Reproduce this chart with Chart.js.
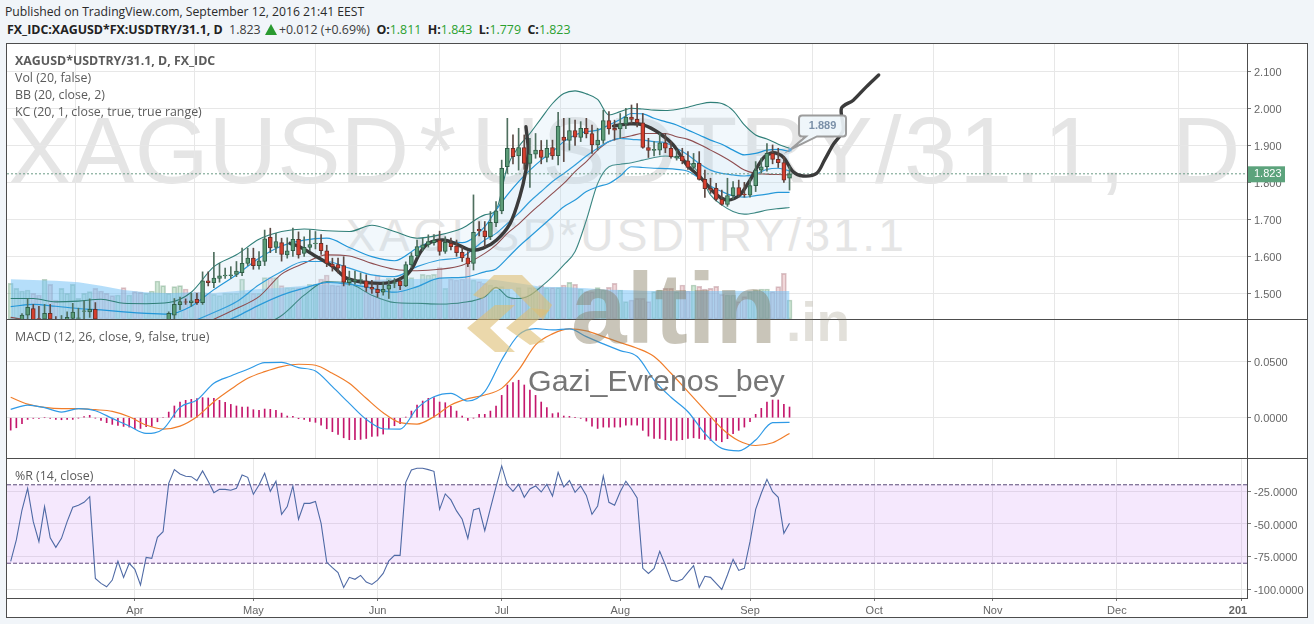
<!DOCTYPE html>
<html>
<head>
<meta charset="utf-8">
<title>XAGUSD*USDTRY/31.1</title>
<script src="https://cdn.jsdelivr.net/npm/chart.js@4/dist/chart.umd.min.js"></script>
<style>
html, body { margin: 0; padding: 0; width: 1314px; height: 624px; overflow: hidden; background: #f1f5f9; }
body { position: relative; font-family: "Open Sans", sans-serif; }
div, canvas, svg { position: absolute; }
#frame { left: 7px; top: 44px; width: 1300px; height: 573px; background: #fff; }
.rule { background: #4d4d4d; }
.wm { font-family: "Liberation Sans", Arial, sans-serif; color: #e5e5e5; white-space: nowrap; line-height: 1; }
.leg { left: 15px; font-size: 12.4px; color: #5b5b5b; white-space: nowrap; line-height: 17px; }
#published { left: 5px; top: 3px; font-size: 12.2px; color: #2a2a2a; white-space: nowrap; line-height: 17px; }
#status { left: 7px; top: 21px; font-size: 12.4px; color: #3c3c3c; white-space: nowrap; line-height: 17px; }
#status b { color: #222; font-weight: 700; }
#status i { font-style: normal; color: #2aa02f; }
#tri { display: inline-block; width: 0; height: 0; border-left: 6px solid transparent; border-right: 6px solid transparent; border-bottom: 11px solid #2a9a30; vertical-align: -1px; margin: 0 2px 0 1px; }
#logo, #logo2, #nick { font-family: "Liberation Sans", Arial, sans-serif; white-space: nowrap; line-height: 1; }
#logo { left: 571px; top: 258px; font-size: 100px; font-weight: 700; color: rgba(135,126,99,.45); }
#logo2 { left: 786px; top: 295px; font-size: 55px; font-weight: 700; color: rgba(135,126,99,.24); }
#nick { left: 528px; top: 365px; font-size: 30.4px; color: #767676; }
</style>
</head>
<body>
<div id="frame"></div>
<div class="wm" style="left:8px;top:103px;font-size:95px">XAGUSD<span style="margin-left:10px;letter-spacing:15px">*</span><span style="letter-spacing:2.5px">USDTRY/31.1</span><span style="letter-spacing:10px">, D</span></div>
<div class="wm" style="left:345px;top:212px;font-size:46px;letter-spacing:3.3px">XAGUSD*USDTRY/31.1</div>

<canvas id="mainChart" width="1300" height="275" style="left:7px;top:44px;width:1300px;height:275px"></canvas>
<canvas id="macdChart" width="1300" height="138" style="left:7px;top:320px;width:1300px;height:138px"></canvas>
<canvas id="wprChart" width="1300" height="158" style="left:7px;top:459px;width:1300px;height:158px"></canvas>

<!-- frame and pane rules -->
<div class="rule" style="left:6px;top:43px;width:1302px;height:1px"></div>
<div class="rule" style="left:6px;top:617px;width:1302px;height:1px"></div>
<div class="rule" style="left:6px;top:43px;width:1px;height:575px"></div>
<div class="rule" style="left:1307px;top:43px;width:1px;height:575px"></div>
<div class="rule" style="left:6px;top:319px;width:1302px;height:1px"></div>
<div class="rule" style="left:6px;top:458px;width:1302px;height:1px"></div>
<div class="rule" style="left:6px;top:598px;width:1242px;height:1px"></div>
<div class="rule" style="left:1247px;top:43px;width:1px;height:556px"></div>

<div id="published">Published on TradingView.com, September 12, 2016 21:41 EEST</div>
<div id="status"><b>FX_IDC:XAGUSD*FX:USDTRY/31.1, D</b>&nbsp; 1.823 <span id="tri"></span>+0.012 (+0.69%) &nbsp;<b>O:</b><i>1.811</i> &nbsp;<b>H:</b><i>1.843</i> &nbsp;<b>L:</b><i>1.779</i> &nbsp;<b>C:</b><i>1.823</i></div>

<div class="leg" style="top:52px;font-weight:700">XAGUSD*USDTRY/31.1, D, FX_IDC</div>
<div class="leg" style="top:69px">Vol (20, false)</div>
<div class="leg" style="top:86px">BB (20, close, 2)</div>
<div class="leg" style="top:103px">KC (20, 1, close, true, true range)</div>
<div class="leg" style="top:328px">MACD (12, 26, close, 9, false, true)</div>
<div class="leg" style="top:467px">%R (14, close)</div>

<!-- site logo over the chart -->
<svg width="1314" height="624" style="left:0;top:0">
  <g fill="rgba(222,190,115,.6)">
    <polygon points="467,328 495,305 515,305 490,328 515,352 495,352"></polygon>
    <polygon points="506,328 530,308 550,310 528,328 545,342 530,345"></polygon>
    <polygon points="473,295 494,275 522,275 552,305 543,320 512,289 494,289 482,299"></polygon>
  </g>
</svg>
<div id="logo">altin</div>
<div id="logo2">.in</div>
<div id="nick">Gazi_Evrenos_bey</div>

<script>
// daily bars, index 0 is the first bar on the left of the chart
const open = [1.420,1.425,1.429,1.441,1.459,1.432,1.430,1.446,1.430,1.428,
  1.429,1.432,1.432,1.451,1.450,1.457,1.428,1.415,1.410,1.405,
  1.415,1.408,1.415,1.410,1.400,1.415,1.415,1.420,1.429,1.441,
  1.469,1.477,1.475,1.484,1.475,1.534,1.529,1.540,1.547,1.548,
  1.551,1.556,1.581,1.595,1.575,1.586,1.651,1.624,1.637,1.604,
  1.615,1.646,1.608,1.624,1.634,1.635,1.615,1.579,1.578,1.575,
  1.529,1.532,1.536,1.534,1.516,1.511,1.503,1.511,1.527,1.534,
  1.520,1.577,1.601,1.622,1.631,1.637,1.644,1.613,1.635,1.628,
  1.611,1.596,1.581,1.673,1.669,1.653,1.691,1.723,1.842,1.892,
  1.871,1.894,1.851,1.876,1.887,1.867,1.894,1.872,1.922,1.913,
  1.940,1.921,1.946,1.932,1.901,1.913,1.967,1.946,1.944,1.958,
  1.976,1.970,1.961,1.894,1.886,1.887,1.907,1.892,1.865,1.871,
  1.858,1.840,1.851,1.808,1.783,1.784,1.754,1.740,1.764,1.786,
  1.768,1.765,1.791,1.833,1.842,1.878,1.862,1.853,1.811];
const high = [1.430,1.432,1.445,1.486,1.470,1.465,1.470,1.470,1.437,1.440,
  1.450,1.473,1.460,1.480,1.485,1.475,1.429,1.425,1.420,1.420,
  1.425,1.420,1.425,1.415,1.420,1.425,1.428,1.429,1.450,1.486,
  1.490,1.485,1.500,1.500,1.558,1.558,1.611,1.581,1.568,1.572,
  1.586,1.622,1.622,1.622,1.613,1.671,1.676,1.662,1.649,1.650,
  1.676,1.666,1.653,1.671,1.667,1.659,1.630,1.595,1.595,1.599,
  1.560,1.560,1.555,1.550,1.535,1.525,1.530,1.535,1.540,1.540,
  1.585,1.610,1.644,1.649,1.658,1.659,1.668,1.653,1.649,1.644,
  1.626,1.613,1.766,1.694,1.694,1.721,1.748,1.860,1.973,1.928,
  1.946,1.928,1.919,1.932,1.913,1.914,1.914,1.989,1.973,1.973,
  1.968,1.964,1.973,1.955,1.946,1.995,1.991,1.968,1.986,2.000,
  2.009,2.013,1.986,1.919,1.910,1.932,1.932,1.910,1.887,1.892,
  1.883,1.878,1.883,1.833,1.811,1.797,1.779,1.811,1.802,1.806,
  1.800,1.810,1.856,1.865,1.905,1.901,1.892,1.869,1.843];
const low = [1.410,1.415,1.420,1.425,1.420,1.420,1.420,1.420,1.420,1.420,
  1.420,1.425,1.420,1.430,1.435,1.420,1.410,1.405,1.400,1.400,
  1.405,1.400,1.405,1.395,1.395,1.405,1.410,1.410,1.420,1.430,
  1.455,1.470,1.465,1.470,1.470,1.520,1.515,1.530,1.540,1.540,
  1.545,1.548,1.575,1.565,1.565,1.575,1.610,1.610,1.587,1.595,
  1.600,1.595,1.600,1.615,1.620,1.605,1.572,1.560,1.555,1.520,
  1.522,1.525,1.525,1.505,1.500,1.490,1.495,1.486,1.515,1.510,
  1.518,1.570,1.598,1.615,1.625,1.630,1.603,1.608,1.617,1.600,
  1.586,1.572,1.563,1.655,1.626,1.645,1.680,1.715,1.824,1.850,
  1.833,1.835,1.786,1.865,1.850,1.855,1.862,1.847,1.856,1.887,
  1.900,1.910,1.920,1.878,1.887,1.905,1.930,1.914,1.919,1.945,
  1.960,1.950,1.892,1.867,1.871,1.874,1.880,1.865,1.860,1.850,
  1.835,1.835,1.806,1.759,1.770,1.750,1.738,1.735,1.755,1.760,
  1.760,1.760,1.775,1.825,1.830,1.850,1.840,1.800,1.779];
const close = [1.425,1.430,1.441,1.462,1.429,1.430,1.446,1.430,1.428,1.430,
  1.435,1.449,1.434,1.453,1.457,1.430,1.415,1.410,1.405,1.415,
  1.408,1.415,1.410,1.400,1.415,1.415,1.420,1.425,1.446,1.470,
  1.478,1.476,1.480,1.475,1.534,1.529,1.541,1.547,1.549,1.550,
  1.560,1.581,1.595,1.575,1.588,1.647,1.623,1.640,1.605,1.615,
  1.646,1.604,1.624,1.632,1.636,1.615,1.581,1.572,1.568,1.530,
  1.538,1.536,1.537,1.516,1.511,1.502,1.511,1.522,1.529,1.521,
  1.578,1.601,1.626,1.631,1.640,1.644,1.613,1.638,1.626,1.610,
  1.596,1.579,1.665,1.669,1.653,1.692,1.723,1.838,1.892,1.869,
  1.894,1.851,1.876,1.887,1.867,1.892,1.871,1.952,1.913,1.940,
  1.922,1.946,1.931,1.901,1.914,1.967,1.944,1.941,1.958,1.976,
  1.970,1.961,1.894,1.886,1.889,1.907,1.892,1.869,1.871,1.858,
  1.840,1.851,1.808,1.783,1.779,1.754,1.740,1.764,1.786,1.765,
  1.766,1.791,1.833,1.842,1.878,1.862,1.853,1.806,1.823];
// volume has no axis in the picture, so this is only relative
const volume = [1070,920,840,870,770,720,1190,1040,570,920,
  770,1040,620,770,820,920,840,770,700,720,
  940,720,820,800,770,840,1140,1000,770,970,
  1000,900,770,800,800,770,740,700,770,770,
  770,1200,770,770,770,1240,1240,1240,1000,940,
  940,940,940,1040,1040,1200,1320,1020,1000,1120,
  1170,1000,1000,1000,1120,1320,1070,1220,1040,1170,
  1170,1240,970,1340,1320,1340,1540,920,1200,1170,
  1200,1620,1170,1120,1070,1020,870,970,900,620,
  940,670,940,940,1000,940,940,940,1020,1100,
  1040,900,820,820,940,870,950,1070,870,520,
  570,620,620,520,820,870,920,920,820,1020,
  840,1020,980,900,920,980,740,720,720,520,
  670,820,870,900,900,820,970,1370,570];

// indicators in the main pane are read at these bars
const bandIdx = [0,4,8,12,16,20,24,28,32,36,40,44,48,52,56,60,64,68,72,76,80,84,
  86,88,90,92,94,96,98,100,102,104,106,108,110,112,114,116,118,120,122,124,126,128,130,132,134,136,138];
const volMa = [1190,1170,1150,1100,1000,870,800,770,800,780,840,900,940,1000,1040,1100,1170,1200,1200,1220,1220,1200,
  1170,1120,1070,1020,970,960,960,940,920,900,880,870,860,850,840,840,840,840,840,840,840,850,840,840,840,840,840];
const bbUpper = [1.486,1.486,1.477,1.479,1.484,1.473,1.472,1.475,1.503,1.572,1.604,1.646,1.667,1.674,1.669,1.667,1.684,1.667,1.649,1.658,1.676,1.712,
  1.725,1.842,1.896,1.932,1.973,2.013,2.040,2.047,2.039,2.024,1.982,1.991,2.000,1.998,1.995,1.994,1.997,2.003,2.011,2.016,2.013,1.994,1.955,1.928,1.917,1.903,1.892];
const bbBasis = [1.435,1.425,1.410,1.405,1.400,1.400,1.400,1.400,1.405,1.430,1.459,1.491,1.552,1.581,1.604,1.601,1.581,1.565,1.561,1.565,1.576,1.608,
  1.631,1.662,1.687,1.716,1.743,1.770,1.797,1.829,1.856,1.887,1.910,1.919,1.926,1.932,1.932,1.932,1.923,1.916,1.903,1.887,1.871,1.853,1.833,1.824,1.822,1.821,1.820];
const bbLower = [1.360,1.370,1.370,1.370,1.360,1.350,1.340,1.330,1.340,1.370,1.390,1.410,1.440,1.495,1.532,1.527,1.495,1.475,1.473,1.471,1.475,1.491,
  1.516,1.491,1.486,1.495,1.518,1.545,1.577,1.613,1.698,1.797,1.842,1.849,1.853,1.860,1.867,1.871,1.867,1.856,1.824,1.766,1.739,1.721,1.714,1.718,1.725,1.729,1.732];
const kcUpper = [1.464,1.470,1.465,1.459,1.455,1.450,1.446,1.444,1.465,1.510,1.550,1.595,1.628,1.644,1.649,1.624,1.599,1.588,1.622,1.646,1.637,1.680,
  1.725,1.766,1.802,1.833,1.860,1.883,1.910,1.928,1.937,1.941,1.955,1.970,1.986,1.985,1.973,1.964,1.955,1.941,1.928,1.914,1.903,1.887,1.874,1.878,1.887,1.889,1.883];
const kcMid = [1.420,1.415,1.410,1.405,1.400,1.400,1.400,1.405,1.423,1.448,1.477,1.523,1.559,1.586,1.586,1.568,1.550,1.545,1.572,1.590,1.599,1.644,
  1.662,1.689,1.716,1.748,1.775,1.802,1.824,1.847,1.871,1.892,1.910,1.919,1.916,1.914,1.910,1.907,1.892,1.874,1.851,1.833,1.824,1.820,1.817,1.822,1.835,1.838,1.831];
const kcLower = [1.370,1.360,1.360,1.350,1.350,1.350,1.350,1.360,1.380,1.410,1.437,1.468,1.495,1.514,1.529,1.525,1.514,1.503,1.518,1.541,1.543,1.558,
  1.566,1.595,1.626,1.653,1.680,1.707,1.734,1.752,1.775,1.788,1.797,1.817,1.842,1.840,1.838,1.837,1.835,1.830,1.811,1.790,1.775,1.763,1.760,1.764,1.768,1.773,1.773];

// the hand drawn forecast brush line, null splits its two strokes
const brushIdx = [49.5,51.2,54.2,57.1,59.5,63.1,67.2,70.1,71.3,72.5,74.0,76.6,79.0,81.4,83.7,86.1,88.5,90.2,91.3,91.7,91.3,
  100,
  106.8,109.7,112.1,115.0,117.4,119.8,122.1,125.1,127.1,129.2,131.0,133.3,135.1,136.9,138.6,140.4,142.8,144.2,145.7,147.5,147.2,149.3,151.6,153.8];
const brushVal = [1.635,1.626,1.599,1.572,1.541,1.529,1.529,1.549,1.572,1.609,1.635,1.644,1.633,1.617,1.622,1.644,1.689,1.761,1.833,1.887,1.950,
  null,
  1.952,1.958,1.955,1.932,1.901,1.847,1.815,1.766,1.752,1.766,1.806,1.865,1.880,1.868,1.829,1.817,1.824,1.860,1.901,1.941,2.000,2.022,2.058,2.090];

// MACD lines are read every third bar
const macdIdx = [0,3,6,9,12,15,18,21,24,27,30,33,36,39,42,45,48,51,54,57,60,63,66,69,72,75,78,81,84,87,90,93,96,99,102,105,108,111,114,117,120,123,126,129,132,135,138];
const macdLine = [0.0074,0.0112,0.0089,0.0050,0.0080,0.0062,-0.0006,-0.0074,-0.0139,-0.0101,0.0092,0.0157,0.0305,0.0370,0.0429,0.0488,0.0491,0.0444,0.0414,0.0275,0.0127,-0.0015,-0.0098,-0.0101,0.0083,0.0186,0.0216,0.0148,0.0231,0.0512,0.0734,0.0790,0.0778,0.0787,0.0719,0.0654,0.0595,0.0542,0.0334,0.0181,0.0053,-0.0139,-0.0272,-0.0293,-0.0198,-0.0044,-0.0041];
const macdSignal = [0.0181,0.0121,0.0092,0.0080,0.0080,0.0071,0.0056,0.0009,-0.0065,-0.0101,-0.0074,0.0009,0.0142,0.0252,0.0349,0.0408,0.0453,0.0474,0.0465,0.0394,0.0305,0.0172,0.0044,-0.0044,-0.0056,0.0009,0.0112,0.0169,0.0201,0.0260,0.0423,0.0645,0.0743,0.0787,0.0770,0.0719,0.0666,0.0616,0.0542,0.0394,0.0231,0.0068,-0.0095,-0.0204,-0.0246,-0.0222,-0.0139];
const macdHist = [-0.0110,-0.0089,-0.0053,-0.0015,-0.0006,-0.0006,0,-0.0006,-0.0015,-0.0018,
  -0.0015,-0.0015,-0.0003,0.0009,0.0021,-0.0003,-0.0024,-0.0044,-0.0059,-0.0068,
  -0.0077,-0.0083,-0.0098,-0.0095,-0.0080,-0.0077,-0.0036,0,0.0050,0.0104,
  0.0139,0.0154,0.0163,0.0169,0.0178,0.0175,0.0172,0.0154,0.0136,0.0118,
  0.0104,0.0095,0.0095,0.0071,0.0065,0.0077,0.0074,0.0065,0.0041,0.0015,
  0.0012,-0.0009,-0.0015,-0.0033,-0.0041,-0.0065,-0.0098,-0.0124,-0.0148,-0.0178,
  -0.0195,-0.0195,-0.0192,-0.0184,-0.0166,-0.0163,-0.0145,-0.0098,-0.0071,-0.0053,
  0.0006,0.0059,0.0112,0.0148,0.0172,0.0178,0.0139,0.0133,0.0101,0.0059,
  0.0015,-0.0024,-0.0003,0.0030,0.0030,0.0059,0.0104,0.0198,0.0290,0.0311,
  0.0332,0.0290,0.0246,0.0198,0.0139,0.0089,0.0036,0.0044,0.0015,0.0012,
  0.0003,-0.0006,-0.0030,-0.0074,-0.0095,-0.0083,-0.0083,-0.0083,-0.0083,-0.0065,
  -0.0065,-0.0065,-0.0112,-0.0163,-0.0184,-0.0184,-0.0195,-0.0201,-0.0201,-0.0195,
  -0.0184,-0.0178,-0.0184,-0.0192,-0.0201,-0.0201,-0.0213,-0.0186,-0.0142,-0.0112,
  -0.0083,-0.0036,0.0030,0.0083,0.0139,0.0157,0.0157,0.0118,0.0095];

const williamsR = [-78.6,-62.2,-39.3,-22.7,-48.2,-63.5,-36.7,-60.5,-67.9,-61.0,
  -48.2,-37.2,-35.7,-33.4,-29.1,-91.6,-95.4,-98.0,-92.9,-78.6,
  -90.8,-80.1,-84.7,-96.7,-75.5,-76.3,-60.2,-55.9,-18.9,-8.4,
  -11.7,-13.5,-13.8,-16.8,-9.4,-17.3,-26.0,-23.5,-23.5,-24.2,
  -22.7,-12.5,-14.3,-27.3,-20.2,-11.2,-25.0,-17.3,-42.6,-36.7,
  -20.9,-46.4,-34.2,-34.2,-32.7,-49.5,-79.3,-83.4,-87.2,-98.5,
  -90.8,-92.3,-89.3,-94.4,-96.2,-92.9,-87.8,-78.1,-74.0,-74.0,
  -18.1,-8.7,-7.4,-7.4,-8.4,-9.7,-38.8,-27.0,-31.6,-40.0,
  -46.4,-61.0,-39.3,-38.0,-55.1,-38.0,-21.4,-5.6,-20.2,-25.0,
  -19.6,-29.6,-23.2,-20.9,-25.5,-19.6,-28.6,-10.5,-21.7,-16.8,
  -25.8,-20.9,-28.1,-42.6,-36.2,-13.3,-33.4,-35.7,-25.3,-17.3,
  -23.2,-30.1,-83.9,-87.8,-83.9,-70.9,-81.4,-92.9,-93.9,-92.3,
  -87.0,-81.9,-98.5,-90.0,-90.8,-95.4,-100.0,-89.0,-77.0,-85.5,
  -83.9,-63.5,-38.8,-26.5,-15.8,-25.3,-29.6,-57.1,-49.5];

// time axis and price axes
const monthIdx = [22,43,65,87,108,131,153,174,196,218];
const monthLabels = ["Apr","May","Jun","Jul","Aug","Sep","Oct","Nov","Dec","2017"];
const priceTicks = [1.5,1.6,1.7,1.8,1.9,2.0,2.1];
const macdTicks = [0,0.05];
const wprTicks = [-25,-50,-75,-100];
const wprLevels = [-20,-80];
const lastClose = 1.823;
const calloutValue = 1.889;

const xMin = -0.655, xMax = 219.06;
const gridColor = "#e7e7e7";
const axisFont = {family: '"Liberation Sans", Arial, sans-serif', size: 11};

const pts = (idx, vals) => idx.map((x, i) => ({x: x, y: vals[i]}));

function lineSet(idx, vals, color, width, extra) {
  return Object.assign({
    type: "line", data: pts(idx, vals), borderColor: color, borderWidth: width,
    pointRadius: 0, tension: 0, yAxisID: "y"
  }, extra || {});
}

// tick labels must not push the plot area in from the pane edges
function noLabelPadding(s) {
  s.paddingTop = 0;
  s.paddingBottom = 0;
  s.paddingLeft = 0;
  s.paddingRight = 0;
}

function xAxis(height, showLabels) {
  return {
    type: "linear", min: xMin, max: xMax, offset: false,
    afterBuildTicks: s => { s.ticks = monthIdx.map(v => ({value: v})); },
    afterFit: s => { s.height = height; noLabelPadding(s); },
    border: {display: false},
    grid: {color: gridColor, drawTicks: showLabels, tickLength: 3, tickColor: "#777"},
    ticks: {
      display: showLabels, autoSkip: false, maxRotation: 0, color: "#666", padding: 3,
      font: c => Object.assign({}, axisFont, {weight: monthLabels[c.index] === "2017" ? "bold" : "normal"}),
      callback: (v, i) => monthLabels[i]
    }
  };
}

function yAxis(min, max, tickList, decimals) {
  return {
    position: "right", min: min, max: max,
    afterBuildTicks: s => { s.ticks = tickList.map(v => ({value: v})); },
    afterFit: s => { s.width = 60; noLabelPadding(s); },
    border: {display: false},
    grid: {color: gridColor, tickLength: 4, tickColor: "#777"},
    ticks: {color: "#666", padding: 3, labelOffset: 1.5, font: axisFont, autoSkip: false, callback: v => v.toFixed(decimals)}
  };
}

const baseOptions = {
  responsive: false, animation: false, events: [],
  layout: {padding: 0, autoPadding: false},
  plugins: {legend: {display: false}, tooltip: {enabled: false}}
};

// green tag on the price axis and the 1.889 callout
const mainOverlay = {
  id: "mainOverlay",
  afterDraw(chart) {
    const c = chart.ctx, sx = chart.scales.x, sy = chart.scales.y;
    const right = chart.chartArea.right;
    const py = sy.getPixelForValue(lastClose);
    c.save();
    c.fillStyle = "#5ca37c";
    c.fillRect(right, py - 7.5, 38, 16);
    c.fillStyle = "#fff";
    c.font = '11px "Liberation Sans", Arial, sans-serif';
    c.textBaseline = "middle";
    c.fillText(lastClose.toFixed(3), right + 7, py + 0.5);

    const tx = sx.getPixelForValue(138), ty = sy.getPixelForValue(calloutValue);
    const bx = tx + 9.5, by = ty - 34, bw = 47, bh = 21;
    c.beginPath();
    c.moveTo(bx + 3, by);
    c.lineTo(bx + bw - 3, by);
    c.quadraticCurveTo(bx + bw, by, bx + bw, by + 3);
    c.lineTo(bx + bw, by + bh - 3);
    c.quadraticCurveTo(bx + bw, by + bh, bx + bw - 3, by + bh);
    c.lineTo(bx + 18, by + bh);
    c.lineTo(tx + 1, ty);
    c.lineTo(bx + 7, by + bh);
    c.lineTo(bx + 3, by + bh);
    c.quadraticCurveTo(bx, by + bh, bx, by + bh - 3);
    c.lineTo(bx, by + 3);
    c.quadraticCurveTo(bx, by, bx + 3, by);
    c.closePath();
    c.fillStyle = "rgba(238,245,250,.92)";
    c.fill();
    c.strokeStyle = "#9c9c9c";
    c.lineWidth = 2;
    c.stroke();
    c.fillStyle = "#7b90a8";
    c.font = 'bold 11px "Liberation Sans", Arial, sans-serif';
    c.textAlign = "center";
    c.fillText(calloutValue.toFixed(3), bx + bw / 2, by + bh / 2 + 0.5);
    c.fillStyle = "#6aa9d8";
    c.fillRect(tx - 1, ty - 1, 3, 3);
    c.restore();
  }
};

// the year label is cut off by the price axis
const cutYear = {
  id: "cutYear",
  afterDraw(chart) {
    chart.ctx.clearRect(chart.chartArea.right, chart.chartArea.bottom + 1, 60, 30);
  }
};

const smooth = {cubicInterpolationMode: "monotone"};

new Chart(document.getElementById("mainChart"), {
  data: {datasets: [
    {type: "bar", data: pts(open.map((_, i) => i), volume), yAxisID: "yVol", barThickness: 5, grouped: false, order: 20, borderWidth: 1, borderSkipped: false,
      backgroundColor: open.map((o, i) => close[i] >= o ? "rgba(90,170,110,.27)" : "rgba(200,110,120,.27)"),
      borderColor: open.map((o, i) => close[i] >= o ? "rgba(70,130,90,.35)" : "rgba(150,90,100,.35)")},
    lineSet(bandIdx, volMa, "rgba(0,0,0,0)", 0, {yAxisID: "yVol", fill: "origin", backgroundColor: "rgba(120,195,245,.55)", order: 19}),
    lineSet(bandIdx, bbUpper, "#2f7f78", 1.1, Object.assign({fill: {target: 3, above: "rgba(190,222,238,.2)", below: "rgba(190,222,238,.2)"}, order: 12}, smooth)),
    lineSet(bandIdx, bbLower, "#2f7f78", 1.1, Object.assign({order: 12}, smooth)),
    lineSet(bandIdx, bbBasis, "#8a3a3a", 1.1, Object.assign({order: 11}, smooth)),
    lineSet(bandIdx, kcUpper, "#2196d8", 1.2, Object.assign({fill: {target: 7, above: "rgba(170,215,240,.12)", below: "rgba(170,215,240,.12)"}, order: 10}, smooth)),
    lineSet(bandIdx, kcMid, "#2196d8", 1.2, Object.assign({order: 10}, smooth)),
    lineSet(bandIdx, kcLower, "#2196d8", 1.2, Object.assign({order: 10}, smooth)),
    lineSet([xMin, xMax], [lastClose, lastClose], "#6b9c86", 1, {borderDash: [2, 2], order: 9}),
    lineSet(brushIdx, brushVal, "#3b3b3b", 3.4, {spanGaps: false, order: 5, tension: 0.3, borderCapStyle: "round", borderJoinStyle: "round"}),
    {type: "bar", data: open.map((_, i) => ({x: i, y: [low[i], high[i]]})), barThickness: 1, grouped: false, order: 3,
      backgroundColor: open.map((o, i) => close[i] >= o ? "#4f6f5f" : "#5c4a44")},
    {type: "bar", data: open.map((o, i) => ({x: i, y: [o, close[i]]})), barThickness: 4, grouped: false, order: 2, borderWidth: 1, borderSkipped: false,
      backgroundColor: open.map((o, i) => close[i] >= o ? "#5c9c78" : "#d63f2e"),
      borderColor: open.map((o, i) => close[i] >= o ? "#2f5e48" : "#6d2f28")}
  ]},
  options: Object.assign({}, baseOptions, {
    scales: {
      x: xAxis(0, false),
      y: yAxis(1.4306, 2.1738, priceTicks, 3),
      yVol: {display: false, min: 0, max: 8250}
    }
  }),
  plugins: [mainOverlay]
});

new Chart(document.getElementById("macdChart"), {
  data: {datasets: [
    {type: "bar", data: pts(macdHist.map((_, i) => i), macdHist), barThickness: 1, grouped: false, order: 5, backgroundColor: "#c4176c"},
    lineSet(macdIdx, macdSignal, "#f07d2a", 1.2, Object.assign({order: 3}, smooth)),
    lineSet(macdIdx, macdLine, "#2f9ae6", 1.2, Object.assign({order: 2}, smooth))
  ]},
  options: Object.assign({}, baseOptions, {
    scales: {x: xAxis(0, false), y: yAxis(-0.0357, 0.0866, macdTicks, 4)}
  })
});

new Chart(document.getElementById("wprChart"), {
  data: {datasets: [
    lineSet([xMin, xMax], [wprLevels[0], wprLevels[0]], "#5b4a78", 1, {borderDash: [4, 2], fill: {target: 1, above: "rgba(190,110,240,.16)", below: "rgba(190,110,240,.16)"}, order: 5}),
    lineSet([xMin, xMax], [wprLevels[1], wprLevels[1]], "#5b4a78", 1, {borderDash: [4, 2], order: 5}),
    lineSet(williamsR.map((_, i) => i), williamsR, "#4f6aa5", 1.1, {order: 2})
  ]},
  options: Object.assign({}, baseOptions, {
    scales: {x: xAxis(19, true), y: yAxis(-106.6, -0.29, wprTicks, 4)}
  }),
  plugins: [cutYear]
});
</script>
</body>
</html>
